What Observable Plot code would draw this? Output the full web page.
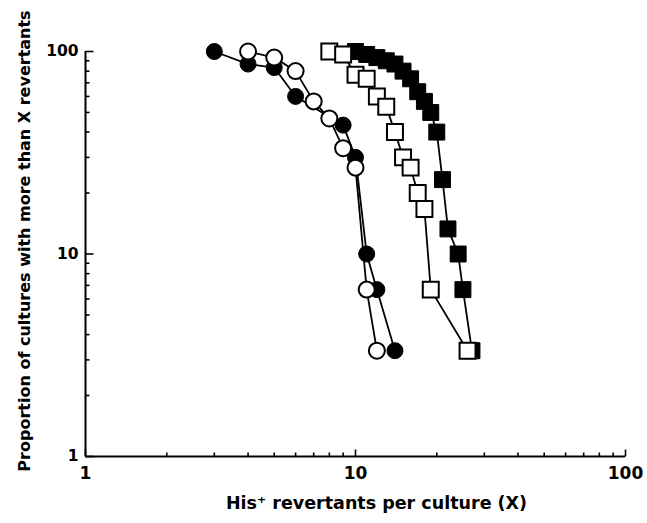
<!DOCTYPE html>
<html>
<head>
<meta charset="utf-8">
<script src="https://cdn.jsdelivr.net/npm/d3@7"></script>
<script src="https://cdn.jsdelivr.net/npm/@observablehq/plot@0.6"></script>
<style>
  body { margin: 0; background: #fff; }
</style>
</head>
<body>
<div id="chart"></div>
<script>
// ---- Data ----
const filledCircleX = [3, 4, 5, 6, 9, 10, 11, 12, 14];
const filledCircleY = [100, 86.7, 83.3, 60, 43.3, 30, 10, 6.67, 3.33];

const openCircleX = [4, 5, 6, 7, 8, 9, 10, 11, 12];
const openCircleY = [100, 93.3, 80, 56.7, 46.7, 33.3, 26.7, 6.67, 3.33];

const filledSquareX = [10, 11, 12, 13, 14, 15, 16, 17, 18, 19, 20, 21, 22, 24, 25, 27];
const filledSquareY = [100, 96.7, 93.3, 90, 86.7, 80, 73.3, 63.3, 56.7, 50, 40, 23.3, 13.3, 10, 6.67, 3.33];

const openSquareX = [8, 9, 10, 11, 12, 13, 14, 15, 16, 17, 18, 19, 26];
const openSquareY = [100, 96.7, 76.7, 73.3, 60, 53.3, 40, 30, 26.7, 20, 16.7, 6.67, 3.33];

const majorTicks = [1, 10, 100];
const xMinorTicks = [2, 3, 4, 5, 6, 7, 8, 9, 20, 30, 40, 50, 60, 70, 80, 90];
const yMinorTicks = [2, 3, 4, 5, 6, 7, 8, 9, 20, 30, 40, 50, 60, 70, 80, 90];

const xLabel = "His\u207A revertants per culture (X)";
const yLabel = "Proportion of cultures with more than X revertants";

// ---- Build tables ----
const toRows = (xs, ys) => xs.map((x, i) => ({x, y: ys[i]}));
const filledCircles = toRows(filledCircleX, filledCircleY);
const openCircles = toRows(openCircleX, openCircleY);
const filledSquares = toRows(filledSquareX, filledSquareY);
const openSquares = toRows(openSquareX, openSquareY);

// inward tick symbols
const tickSym = (dx, dy) => ({draw(ctx) { ctx.moveTo(0, 0); ctx.lineTo(dx, dy); }});

const FONT = "'DejaVu Sans', sans-serif";

const chart = Plot.plot({
  width: 647,
  height: 523,
  marginLeft: 85,
  marginRight: 22,
  marginTop: 51,
  marginBottom: 67,
  style: {fontFamily: FONT, fontWeight: "bold", background: "white", color: "black"},
  x: {type: "log", domain: [1, 100]},
  y: {type: "log", domain: [1, 100]},
  marks: [
    // axis lines
    Plot.ruleY([1], {stroke: "black", strokeWidth: 2}),
    Plot.ruleX([1], {stroke: "black", strokeWidth: 2}),
    // inward ticks on x axis
    Plot.dot(majorTicks, {x: d => d, y: () => 1, symbol: tickSym(0, -7), stroke: "black", fill: "none", strokeWidth: 1.6}),
    Plot.dot(xMinorTicks, {x: d => d, y: () => 1, symbol: tickSym(0, -4), stroke: "black", fill: "none", strokeWidth: 1.6}),
    // inward ticks on y axis
    Plot.dot(majorTicks, {x: () => 1, y: d => d, symbol: tickSym(8, 0), stroke: "black", fill: "none", strokeWidth: 1.6}),
    Plot.dot(yMinorTicks, {x: () => 1, y: d => d, symbol: tickSym(4, 0), stroke: "black", fill: "none", strokeWidth: 1.6}),
    // tick labels
    Plot.axisX(majorTicks, {tickSize: 0, tickPadding: 10, tickFormat: d => String(d), label: null, fontSize: 17}),
    Plot.axisY(majorTicks, {tickSize: 0, tickPadding: 7, tickFormat: d => String(d), label: null, fontSize: 15.5}),
    // axis titles
    Plot.text([xLabel], {text: d => d, frameAnchor: "bottom", dx: 21, dy: 47, textAnchor: "middle", lineAnchor: "middle", fontSize: 17.5}),
    Plot.text([yLabel], {text: d => d, frameAnchor: "left", rotate: -90, dx: -61, dy: -13, textAnchor: "middle", lineAnchor: "middle", fontSize: 16}),
    // connecting lines
    Plot.line(filledCircles, {x: "x", y: "y", stroke: "black", strokeWidth: 1.8}),
    Plot.line(openCircles, {x: "x", y: "y", stroke: "black", strokeWidth: 1.8}),
    Plot.line(filledSquares, {x: "x", y: "y", stroke: "black", strokeWidth: 1.8}),
    Plot.line(openSquares, {x: "x", y: "y", stroke: "black", strokeWidth: 1.8}),
    // markers
    Plot.dot(filledCircles, {x: "x", y: "y", r: 8, fill: "black", stroke: "black", strokeWidth: 1}),
    Plot.dot(openCircles, {x: "x", y: "y", r: 8, fill: "white", stroke: "black", strokeWidth: 2}),
    Plot.dot(filledSquares, {x: "x", y: "y", r: 9, symbol: "square", fill: "black", stroke: "black", strokeWidth: 1}),
    Plot.dot(openSquares, {x: "x", y: "y", r: 9, symbol: "square", fill: "white", stroke: "black", strokeWidth: 2})
  ]
});

document.getElementById("chart").appendChild(chart);
</script>
</body>
</html>
